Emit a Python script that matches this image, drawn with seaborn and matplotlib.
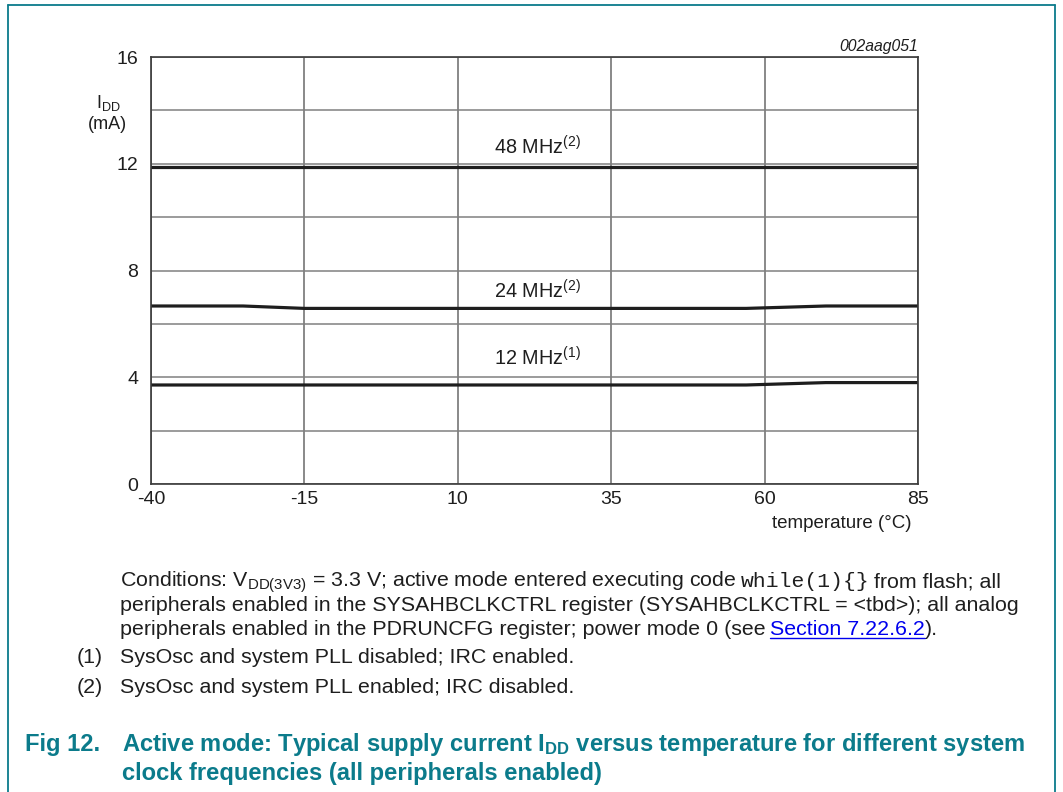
import matplotlib
matplotlib.use("Agg")
import matplotlib.pyplot as plt
from matplotlib.lines import Line2D
import pandas as pd
import seaborn as sns

# Measured supply current versus temperature for three clock settings
temperature = [-40, -25, -15, 57, 70, 85]
idd_48mhz = [11.88, 11.88, 11.88, 11.88, 11.88, 11.88]
idd_24mhz = [6.67, 6.67, 6.58, 6.58, 6.67, 6.67]
idd_12mhz = [3.71, 3.71, 3.71, 3.71, 3.80, 3.80]
series_names = ["48 MHz", "24 MHz", "12 MHz"]
series_notes = ["(2)", "(2)", "(1)"]
label_values = [12.2, 6.8, 4.3]

x_ticks = [-40, -15, 10, 35, 60, 85]
y_ticks = [0, 4, 8, 12, 16]

W, H, DPI = 1063, 792, 100
TEAL = "#0b7b8b"
INK = "#1e1e1e"
LINK = "#0000ee"

sns.set_theme(style="whitegrid")
plt.rcParams["font.family"] = ["Liberation Sans", "DejaVu Sans"]
plt.rcParams["axes.unicode_minus"] = False
plt.rcParams["mathtext.fontset"] = "custom"
plt.rcParams["mathtext.rm"] = "Liberation Sans"
plt.rcParams["mathtext.it"] = "Liberation Sans:italic"
plt.rcParams["mathtext.bf"] = "Liberation Sans:bold"

df = pd.DataFrame({
    "temperature": temperature * 3,
    "idd": idd_48mhz + idd_24mhz + idd_12mhz,
    "clock": [series_names[0]] * 6 + [series_names[1]] * 6 + [series_names[2]] * 6,
})

fig = plt.figure(figsize=(W / DPI, H / DPI), dpi=DPI, facecolor="white")


def px(x, y):
    return x / W, 1 - y / H


ax_l, ax_r, ax_t, ax_b = 151, 918, 57, 484
ax = fig.add_axes([ax_l / W, 1 - ax_b / H, (ax_r - ax_l) / W, (ax_b - ax_t) / H])
ax.set_facecolor("white")

sns.lineplot(data=df, x="temperature", y="idd", units="clock", estimator=None,
             color=INK, linewidth=2.3, ax=ax, legend=False)

ax.set_xlim(-40, 85)
ax.set_ylim(0, 16)
ax.set_xticks(x_ticks)
ax.set_yticks(y_ticks)
ax.set_yticks([2, 6, 10, 14], minor=True)
ax.grid(True, which="both", axis="y", color="#808080", linewidth=1.1)
ax.grid(True, which="major", axis="x", color="#6a6a6a", linewidth=1.1)
ax.tick_params(axis="both", which="both", length=0, labelsize=14, labelcolor=INK)
ax.tick_params(axis="x", pad=5)
ax.tick_params(axis="y", pad=9)
ax.set_xlabel("")
ax.set_ylabel("")
for sp in ax.spines.values():
    sp.set_visible(True)
    sp.set_color("#3a3a3a")
    sp.set_linewidth(1.2)

# Curve labels
for name, note, yv in zip(series_names, series_notes, label_values):
    ax.text(23, yv, name + r"$^{\mathrm{" + note + "}}$", ha="center", va="bottom",
            fontsize=14.3, color=INK)

# Axis titles
fig.text(*px(108, 108), r"I$_{\mathrm{DD}}$", ha="center", va="baseline", fontsize=13, color=INK)
fig.text(*px(107, 129), "(mA)", ha="center", va="baseline", fontsize=13, color=INK)
fig.text(*px(911, 528), "temperature (\u00b0C)", ha="right", va="baseline", fontsize=13.5, color=INK)
fig.text(*px(918, 51), "002aag051", ha="right", va="baseline", fontsize=11.3, style="italic", color=INK)

# Frame around the figure block
for xs, ys in [([8, 8], [5, 792]), ([1055, 1055], [5, 792]), ([8, 1055], [5, 5])]:
    fig.add_artist(Line2D([x / W for x in xs], [1 - y / H for y in ys], color=TEAL, linewidth=1.3))

fig.canvas.draw()
renderer = fig.canvas.get_renderer()


def run(x0, y0, pieces, size, gaps):
    """Place text pieces one after another on a shared baseline."""
    x = x0
    out = []
    for (txt, kw), gap in zip(pieces, gaps):
        x += gap
        t = fig.text(x / W, 1 - y0 / H, txt, ha="left", va="baseline", fontsize=size, **kw)
        bb = t.get_window_extent(renderer)
        out.append(bb)
        x = bb.x1
    return out


body = 15.4
plain = dict(color=INK)
space = 4.5

run(120, 587, [("Conditions: V$_{\\mathrm{DD(3V3)}}$ = 3.3 V; active mode entered executing code", plain),
               ("while(1){}", dict(color=INK, family="Liberation Mono")),
               ("from flash; all", plain)], body, [0, space, space])
run(120, 611, [("peripherals enabled in the SYSAHBCLKCTRL register (SYSAHBCLKCTRL = <tbd>); all analog", plain)],
    body, [0])
boxes = run(120, 635, [("peripherals enabled in the PDRUNCFG register; power mode 0 (see", plain),
                       ("Section 7.22.6.2", dict(color=LINK)),
                       (").", plain)], body, [0, space, 0])
link = boxes[1]
fig.add_artist(Line2D([link.x0 / W, link.x1 / W], [(H - 638) / H] * 2, color=LINK, linewidth=1.0))

fig.text(*px(77, 663), "(1)", ha="left", va="baseline", fontsize=body, color=INK)
fig.text(*px(120, 663), "SysOsc and system PLL disabled; IRC enabled.", ha="left", va="baseline", fontsize=body, color=INK)
fig.text(*px(77, 693), "(2)", ha="left", va="baseline", fontsize=body, color=INK)
fig.text(*px(120, 693), "SysOsc and system PLL enabled; IRC disabled.", ha="left", va="baseline", fontsize=body, color=INK)

cap = 17.1
fig.text(*px(25, 751), "Fig 12.", ha="left", va="baseline", fontsize=cap, weight="bold", color=TEAL)
fig.text(*px(122, 751),
         r"Active mode: Typical supply current $\mathbf{I_{DD}}$ versus temperature for different system",
         ha="left", va="baseline", fontsize=cap, weight="bold", color=TEAL)
fig.text(*px(122, 780), "clock frequencies (all peripherals enabled)", ha="left", va="baseline",
         fontsize=cap, weight="bold", color=TEAL)

fig.savefig("out.png", dpi=DPI, facecolor="white")
